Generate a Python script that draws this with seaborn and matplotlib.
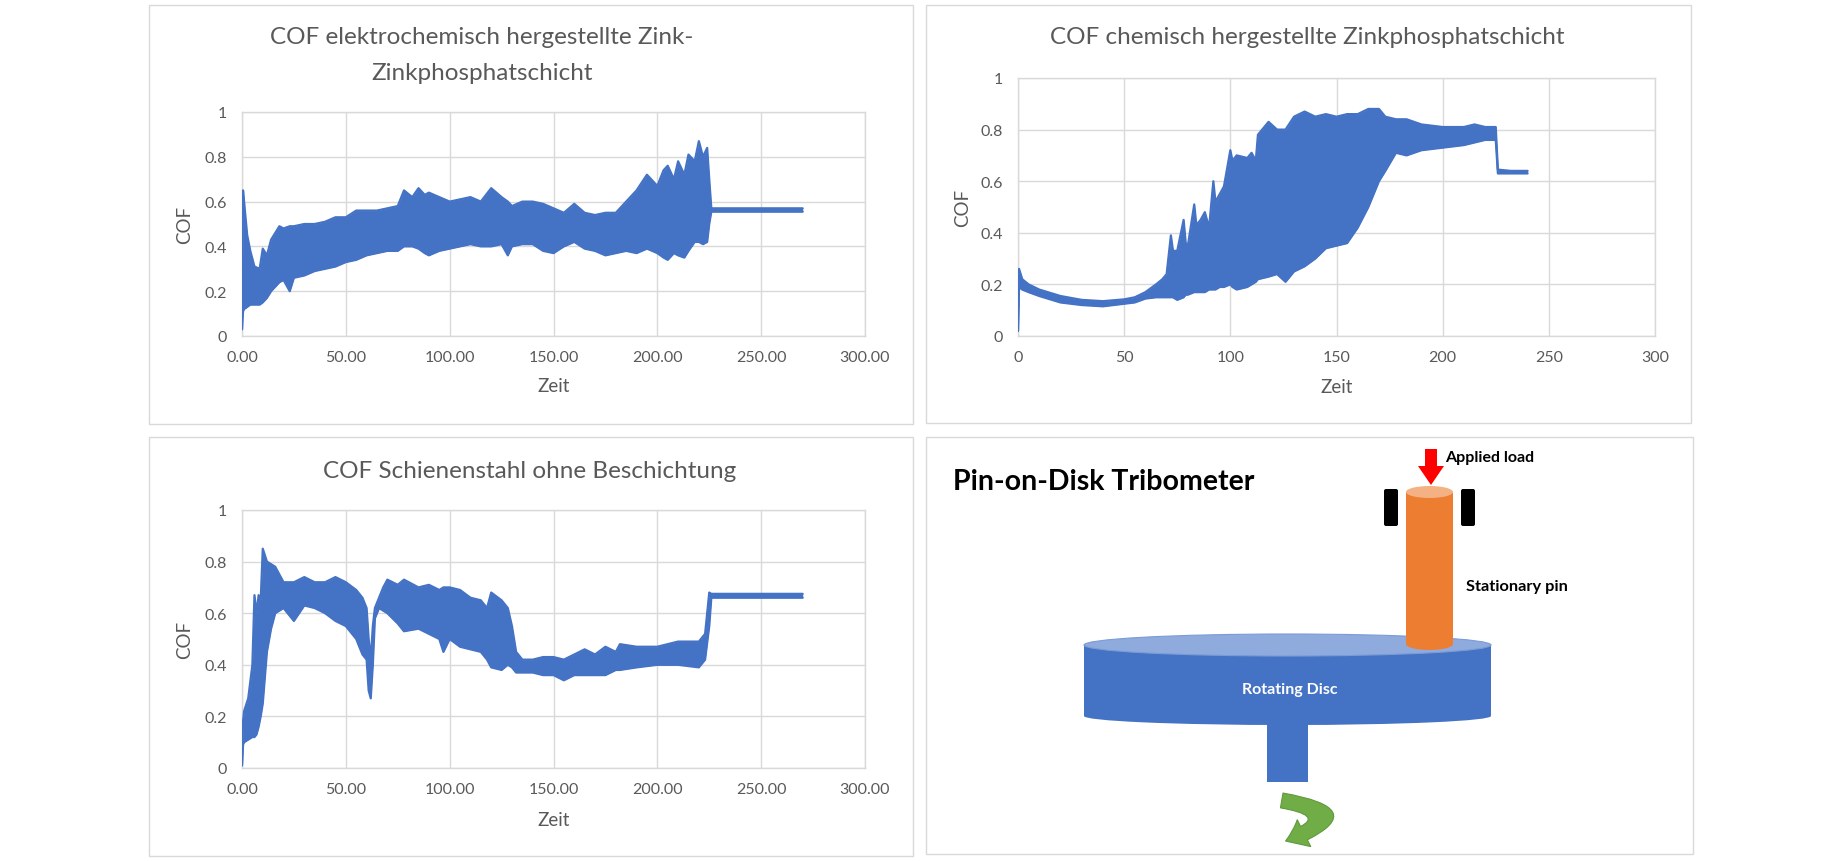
import numpy as np
import pandas as pd
import seaborn as sns
import matplotlib
matplotlib.use("Agg")
import matplotlib.pyplot as plt
from matplotlib.patches import Rectangle, Ellipse, Polygon, FancyBboxPatch, FancyArrowPatch

# ---------------- data (envelopes) ----------------
t1 = [0, 0.5, 1, 2.5, 4, 6, 8.5, 10, 12, 14,
      16, 18, 20, 23, 25, 30, 35, 40, 45, 50,
      55, 60, 65, 70, 75, 78, 82, 85, 88, 90,
      95, 100, 105, 110, 115, 120, 125, 128, 130, 135,
      140, 145, 150, 155, 160, 165, 170, 175, 180, 185,
      190, 195, 200, 203, 205, 208, 210, 213, 215, 218,
      220, 222, 224, 225, 226, 240, 255, 270]
hi1 = [0.03, 0.65, 0.6, 0.45, 0.38, 0.31, 0.30, 0.39, 0.36, 0.43,
       0.46, 0.49, 0.48, 0.49, 0.49, 0.50, 0.50, 0.51, 0.53, 0.53,
       0.56, 0.56, 0.56, 0.57, 0.58, 0.65, 0.62, 0.66, 0.63, 0.64,
       0.62, 0.60, 0.61, 0.62, 0.60, 0.66, 0.62, 0.60, 0.58, 0.60,
       0.60, 0.59, 0.57, 0.55, 0.59, 0.55, 0.54, 0.55, 0.55, 0.60,
       0.65, 0.72, 0.67, 0.74, 0.76, 0.70, 0.78, 0.72, 0.81, 0.78,
       0.87, 0.80, 0.84, 0.70, 0.57, 0.57, 0.57, 0.57]
lo1 = [0.03, 0.11, 0.12, 0.13, 0.14, 0.14, 0.14, 0.15, 0.17, 0.20,
       0.22, 0.24, 0.25, 0.20, 0.26, 0.27, 0.29, 0.30, 0.31, 0.33,
       0.34, 0.36, 0.37, 0.38, 0.38, 0.40, 0.40, 0.39, 0.37, 0.36,
       0.38, 0.39, 0.40, 0.41, 0.40, 0.40, 0.41, 0.36, 0.40, 0.41,
       0.41, 0.38, 0.37, 0.40, 0.42, 0.39, 0.38, 0.36, 0.37, 0.38,
       0.37, 0.39, 0.37, 0.35, 0.34, 0.37, 0.36, 0.35, 0.38, 0.42,
       0.42, 0.41, 0.42, 0.50, 0.555, 0.555, 0.555, 0.555]

t2 = [0, 0.5, 2, 5, 10, 20, 30, 40, 50, 55,
      60, 65, 68, 70, 72, 73, 75, 78, 79, 80,
      83, 84, 86, 88, 90, 92, 93, 95, 97, 100,
      101, 103, 108, 110, 112, 113, 118, 122, 126, 130,
      135, 140, 145, 150, 155, 160, 165, 170, 173, 178,
      183, 190, 200, 210, 215, 220, 225, 226, 232, 240]
hi2 = [0.02, 0.26, 0.22, 0.20, 0.18, 0.155, 0.14, 0.135, 0.142, 0.15,
       0.17, 0.20, 0.22, 0.24, 0.39, 0.33, 0.33, 0.45, 0.36, 0.35,
       0.51, 0.43, 0.45, 0.48, 0.42, 0.60, 0.52, 0.55, 0.58, 0.72,
       0.68, 0.70, 0.69, 0.71, 0.68, 0.78, 0.83, 0.80, 0.80, 0.85,
       0.87, 0.85, 0.86, 0.85, 0.86, 0.86, 0.88, 0.88, 0.85, 0.84,
       0.84, 0.82, 0.81, 0.81, 0.82, 0.81, 0.81, 0.645, 0.64, 0.64]
lo2 = [0.02, 0.19, 0.18, 0.17, 0.155, 0.13, 0.12, 0.115, 0.125, 0.13,
       0.145, 0.15, 0.15, 0.15, 0.15, 0.15, 0.14, 0.15, 0.16, 0.16,
       0.17, 0.17, 0.17, 0.17, 0.18, 0.18, 0.18, 0.19, 0.19, 0.20,
       0.19, 0.18, 0.19, 0.20, 0.21, 0.22, 0.23, 0.24, 0.21, 0.25,
       0.27, 0.30, 0.34, 0.35, 0.36, 0.42, 0.50, 0.60, 0.64, 0.71,
       0.70, 0.72, 0.73, 0.74, 0.75, 0.76, 0.76, 0.63, 0.63, 0.63]

t3 = [0, 0.5, 1, 3, 5, 6, 7, 8, 9, 10,
      12, 14, 16, 20, 25, 30, 35, 40, 45, 50,
      55, 58, 60, 61, 62, 63, 64, 66, 68, 70,
      75, 78, 85, 90, 95, 97, 100, 105, 110, 115,
      118, 120, 125, 128, 130, 132, 135, 140, 145, 150,
      155, 160, 165, 170, 175, 180, 182, 190, 200, 210,
      220, 223, 225, 226, 240, 255, 270]
hi3 = [0.01, 0.18, 0.22, 0.27, 0.40, 0.67, 0.60, 0.67, 0.65, 0.85,
       0.80, 0.79, 0.78, 0.72, 0.72, 0.74, 0.72, 0.72, 0.74, 0.72,
       0.69, 0.66, 0.62, 0.50, 0.42, 0.55, 0.62, 0.66, 0.70, 0.73,
       0.71, 0.73, 0.70, 0.71, 0.69, 0.70, 0.70, 0.69, 0.66, 0.65,
       0.62, 0.68, 0.65, 0.62, 0.55, 0.45, 0.42, 0.42, 0.43, 0.43,
       0.42, 0.44, 0.46, 0.44, 0.47, 0.45, 0.48, 0.47, 0.47, 0.49,
       0.49, 0.52, 0.68, 0.675, 0.675, 0.675, 0.675]
lo3 = [0.01, 0.09, 0.10, 0.11, 0.12, 0.12, 0.13, 0.16, 0.20, 0.25,
       0.45, 0.54, 0.60, 0.62, 0.57, 0.63, 0.62, 0.60, 0.57, 0.55,
       0.50, 0.44, 0.42, 0.30, 0.27, 0.40, 0.58, 0.62, 0.61, 0.60,
       0.56, 0.53, 0.54, 0.52, 0.50, 0.45, 0.50, 0.47, 0.46, 0.45,
       0.42, 0.39, 0.38, 0.40, 0.39, 0.37, 0.37, 0.37, 0.36, 0.36,
       0.34, 0.36, 0.36, 0.36, 0.36, 0.38, 0.38, 0.39, 0.40, 0.40,
       0.39, 0.42, 0.55, 0.66, 0.66, 0.66, 0.66]

titles = ["COF elektrochemisch hergestellte Zink-\nZinkphosphatschicht",
          "COF chemisch hergestellte Zinkphosphatschicht",
          "COF Schienenstahl ohne Beschichtung"]
y_ticks = [0, 0.2, 0.4, 0.6, 0.8, 1]
y_ticklabels = ["0", "0.2", "0.4", "0.6", "0.8", "1"]
x_ticks = [0, 50, 100, 150, 200, 250, 300]
x_ticklabels_dec = ["0.00", "50.00", "100.00", "150.00", "200.00", "250.00", "300.00"]
x_ticklabels_int = ["0", "50", "100", "150", "200", "250", "300"]
x_label = "Zeit"
y_label = "COF"

# ---------------- style ----------------
sns.set_theme(style="white")
plt.rcParams['font.family'] = ['Lato', 'DejaVu Sans']

W, H = 1843, 862
fig = plt.figure(figsize=(W / 100, H / 100), dpi=100)
fig.patch.set_facecolor("white")

BLUE = "#4472C4"
GRID = "#D9D9D9"
TXT = "#595959"
TITLE_FS = 17.5

# background axes in pixel coordinates
bg = fig.add_axes([0, 0, 1, 1])
bg.set_xlim(0, W)
bg.set_ylim(H, 0)
bg.axis("off")

# panel borders
for (x0, y0, x1, y1) in [(149, 6, 913, 425), (926, 6, 1691, 424),
                         (149, 438, 913, 857), (926, 438, 1693, 855)]:
    bg.add_patch(Rectangle((x0, y0), x1 - x0, y1 - y0, fill=False,
                           edgecolor=GRID, linewidth=1.0))

# titles
bg.text(482, 38, titles[0].split("\n")[0], ha="center", va="center", fontsize=TITLE_FS, color=TXT)
bg.text(482, 73, titles[0].split("\n")[1], ha="center", va="center", fontsize=TITLE_FS, color=TXT)
bg.text(1307, 38, titles[1], ha="center", va="center", fontsize=TITLE_FS, color=TXT)
bg.text(530, 472, titles[2], ha="center", va="center", fontsize=TITLE_FS, color=TXT)


def px_rect(x0, y0, x1, y1):
    return [x0 / W, 1 - y1 / H, (x1 - x0) / W, (y1 - y0) / H]


def cof_chart(rect, t, lo, hi, xticklabels, xlab_y, ylab_x):
    ax = fig.add_axes(rect)
    df = pd.DataFrame({"Zeit": t, "lo": lo, "hi": hi})
    ax.fill_between(df["Zeit"], df["lo"], df["hi"], color=BLUE, linewidth=0, zorder=3)
    sns.lineplot(data=df, x="Zeit", y="hi", ax=ax, color=BLUE, linewidth=1.6, zorder=4)
    sns.lineplot(data=df, x="Zeit", y="lo", ax=ax, color=BLUE, linewidth=1.6, zorder=4)
    ax.set_xlim(0, 300)
    ax.set_ylim(0, 1)
    ax.set_xticks(x_ticks)
    ax.set_xticklabels(xticklabels)
    ax.set_yticks(y_ticks)
    ax.set_yticklabels(y_ticklabels)
    ax.grid(True, color=GRID, linewidth=1.0)
    ax.set_axisbelow(True)
    for s in ax.spines.values():
        s.set_color(GRID)
        s.set_linewidth(1.0)
    ax.tick_params(axis="both", length=0, labelsize=11.5, labelcolor=TXT)
    ax.tick_params(axis="x", pad=10)
    ax.tick_params(axis="y", pad=11)
    ax.set_xlabel(x_label, fontsize=13.5, color=TXT)
    ax.set_ylabel(y_label, fontsize=13.5, color=TXT)
    ax.xaxis.label.set_va("center")
    ax.yaxis.label.set_va("center")
    ax.xaxis.set_label_coords(0.5, xlab_y)
    ax.yaxis.set_label_coords(ylab_x, 0.5)
    return ax


cof_chart(px_rect(242, 113, 865, 337), t1, lo1, hi1, x_ticklabels_dec, -0.223, -0.0915)
cof_chart(px_rect(1018, 79, 1655, 337), t2, lo2, hi2, x_ticklabels_int, -0.194, -0.0863)
cof_chart(px_rect(242, 511, 865, 769), t3, lo3, hi3, x_ticklabels_dec, -0.198, -0.0915)

# ---------------- Pin-on-Disk diagram ----------------
bg.text(953, 482, "Pin-on-Disk Tribometer", ha="left", va="center",
        fontsize=20.5, fontweight="bold", color="black")

# shaft (behind disc)
bg.add_patch(Rectangle((1267, 715), 41, 68, facecolor=BLUE, edgecolor="none", zorder=2))
# disc body
bg.add_patch(Ellipse((1287.5, 717), 407, 18, facecolor=BLUE, edgecolor="none", zorder=3))
bg.add_patch(Rectangle((1084, 646), 407, 71, facecolor=BLUE, edgecolor="none", zorder=3))
bg.add_patch(Ellipse((1287.5, 646), 407, 22, facecolor="#8FAADC", edgecolor="#7A9CD6",
                     linewidth=0.8, zorder=4))
bg.text(1290, 690, "Rotating Disc", ha="center", va="center", fontsize=11.5,
        fontweight="bold", color="white", zorder=5)

# pin
bg.add_patch(Ellipse((1429.5, 645), 47, 12, facecolor="#ED7D31", edgecolor="none", zorder=6))
bg.add_patch(Rectangle((1406, 493), 47, 152, facecolor="#ED7D31", edgecolor="none", zorder=6))
bg.add_patch(Ellipse((1429.5, 493), 47, 12, facecolor="#F4B183", edgecolor="none", zorder=7))

# holders
for hx in (1383, 1460):
    bg.add_patch(FancyBboxPatch((hx + 1, 490), 14, 37,
                                boxstyle="round,pad=0,rounding_size=2",
                                facecolor="black", edgecolor="none", zorder=6))

# red load arrow
bg.add_patch(Polygon([(1425, 450), (1437, 450), (1437, 467), (1444, 467),
                      (1431, 486), (1418, 467), (1425, 467)], closed=True,
                     facecolor="#FF0000", edgecolor="none", zorder=8))
bg.text(1445, 458, "Applied load", ha="left", va="center", fontsize=11.5,
        fontweight="bold", color="black")
bg.text(1466, 587, "Stationary pin", ha="left", va="center", fontsize=11.8,
        fontweight="bold", color="black")

# green rotation arrow
bg.add_patch(FancyArrowPatch((1279, 801), (1283, 843),
                             connectionstyle="arc3,rad=-1.9",
                             arrowstyle="simple,head_length=0.8,head_width=1.2,tail_width=0.6",
                             mutation_scale=18, facecolor="#70AD47", edgecolor="#5E9A3A",
                             linewidth=0.8, zorder=5))

fig.savefig("out.png", dpi=100, facecolor="white")
